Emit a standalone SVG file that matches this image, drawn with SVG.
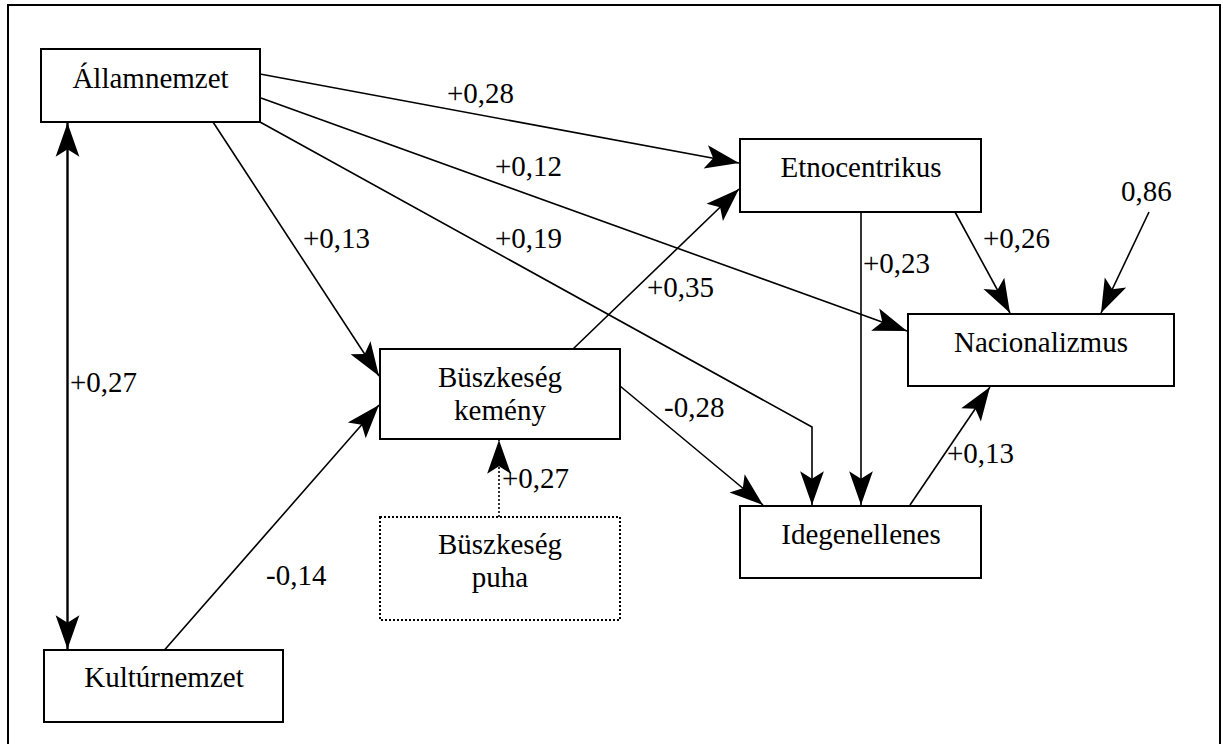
<svg xmlns="http://www.w3.org/2000/svg" width="1223" height="744" viewBox="0 0 1223 744">
<style>
.box{fill:#fff;stroke:#000;stroke-width:2}
.dot{fill:#fff;stroke:#000;stroke-width:2;stroke-dasharray:2 2}
.t{font-family:"Liberation Serif","Times New Roman",serif;font-size:29px;fill:#000}
.c{text-anchor:middle}
.ln{fill:none;stroke:#000;stroke-width:1.6;marker-end:url(#ah)}
</style>
<defs>
<marker id="ah" markerUnits="userSpaceOnUse" markerWidth="40" markerHeight="40" viewBox="-30 -12 32 24" refX="0" refY="0" orient="auto">
<path d="M0,0 L-27,-9.5 L-21,0 L-27,9.5 Z" fill="#000"/>
</marker>
<marker id="ahs" markerUnits="userSpaceOnUse" markerWidth="40" markerHeight="40" viewBox="-30 -12 32 24" refX="0" refY="0" orient="auto-start-reverse">
<path d="M0,0 L-27,-9.5 L-21,0 L-27,9.5 Z" fill="#000"/>
</marker>
</defs>
<rect x="0" y="0" width="1223" height="744" fill="#fff"/>
<rect x="8" y="5" width="1212" height="745" fill="none" stroke="#000" stroke-width="2"/>
<g id="connectors">
<line class="ln" x1="260" y1="74" x2="739" y2="163"/>
<line class="ln" x1="261" y1="98" x2="907" y2="331"/>
<polyline class="ln" points="260,122 812,427 812,505"/>
<line class="ln" x1="213" y1="122" x2="379" y2="376"/>
<line x1="67.5" y1="123" x2="67.5" y2="649" fill="none" stroke="#000" stroke-width="2.4" marker-start="url(#ahs)" marker-end="url(#ahs)"/>
<line class="ln" x1="164.5" y1="650" x2="379" y2="405"/>
<line class="ln" x1="573" y1="349" x2="739" y2="189"/>
<line class="ln" x1="620" y1="386" x2="763" y2="505"/>
<line class="ln" x1="499" y1="517" x2="499" y2="440" stroke-dasharray="2 2"/>
<line class="ln" x1="861" y1="212" x2="861" y2="505"/>
<line class="ln" x1="955" y1="212" x2="1010" y2="313"/>
<line class="ln" x1="1149" y1="212" x2="1101" y2="313"/>
<line class="ln" x1="910" y1="505" x2="990" y2="387"/>
</g>
<g id="labels" class="t">
<text x="447" y="103">+0,28</text>
<text x="495" y="176">+0,12</text>
<text x="303" y="248">+0,13</text>
<text x="495" y="248">+0,19</text>
<text x="1121" y="201">0,86</text>
<text x="983" y="248">+0,26</text>
<text x="863" y="273">+0,23</text>
<text x="647" y="297">+0,35</text>
<text x="70" y="392">+0,27</text>
<text x="664" y="417">-0,28</text>
<text x="947" y="463">+0,13</text>
<text x="502" y="488">+0,27</text>
<text x="266" y="585">-0,14</text>
</g>
<g id="allamnemzet"><rect class="box" x="41" y="49" width="219" height="73"/><text class="t c" x="150.5" y="88">Államnemzet</text></g>
<g id="etnocentrikus"><rect class="box" x="740" y="139" width="241" height="73"/><text class="t c" x="861" y="177">Etnocentrikus</text></g>
<g id="nacionalizmus"><rect class="box" x="908" y="314" width="266" height="72"/><text class="t c" x="1041" y="352">Nacionalizmus</text></g>
<g id="buszkeseg-kemeny"><rect class="box" x="380" y="349" width="240" height="90"/><text class="t c" x="500" y="387">Büszkeség</text><text class="t c" x="500" y="420">kemény</text></g>
<g id="buszkeseg-puha"><rect class="dot" x="380" y="517" width="240" height="103"/><text class="t c" x="500" y="554">Büszkeség</text><text class="t c" x="500" y="587">puha</text></g>
<g id="idegenellenes"><rect class="box" x="740" y="506" width="241" height="72"/><text class="t c" x="861" y="544">Idegenellenes</text></g>
<g id="kulturnemzet"><rect class="box" x="44" y="650" width="239" height="72"/><text class="t c" x="164" y="687">Kultúrnemzet</text></g>
</svg>
